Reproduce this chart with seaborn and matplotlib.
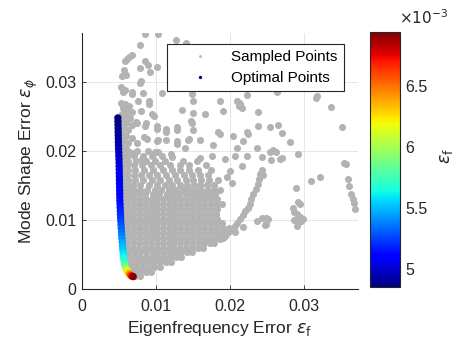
import numpy as np
import pandas as pd
import matplotlib
matplotlib.use("Agg")
import matplotlib.pyplot as plt
import seaborn as sns
from matplotlib.lines import Line2D
from matplotlib import colors as mcolors
from matplotlib import cm

# ---------------- data (values in units of 1e-3) ----------------
SCALE = 1e-3

# dense core of sampled points, row by row: y level and x values on that row
core_row_y = [1.9, 2.5, 3.2, 3.9, 4.6, 5.3, 6.0, 6.7, 7.4, 8.1, 8.8, 9.5, 10.2, 10.9,
              11.6, 12.3, 13.0, 13.7, 14.4, 15.1, 15.8, 16.5, 17.2, 17.9, 18.6, 19.3, 20.0]
core_row_x = [
    [7.1, 7.8],
    [6.4, 7.1, 7.9, 8.6, 9.3],
    [6.0, 6.7, 7.4, 8.2, 9.0, 9.7, 10.5],
    [5.8, 6.5, 7.3, 8.1, 8.9, 9.7, 10.5, 11.3, 12.0],
    [5.6, 6.3, 7.1, 7.9, 8.7, 9.5, 10.3, 11.1, 11.9, 12.7, 13.4],
    [5.5, 6.2, 7.0, 7.8, 8.6, 9.4, 10.2, 11.0, 11.8, 12.6, 13.4, 14.2, 14.8],
    [5.4, 6.1, 6.9, 7.7, 8.5, 9.3, 10.1, 10.9, 11.7, 12.5, 13.3, 14.1, 14.9, 15.7, 16.4],
    [5.4, 6.1, 6.9, 7.7, 8.5, 9.3, 10.1, 10.9, 11.7, 12.5, 13.3, 14.1, 14.9, 15.7, 16.5, 17.3, 17.9],
    [5.4, 6.2, 7.0, 7.8, 8.6, 9.4, 10.2, 11.0, 11.8, 12.6, 13.4, 14.2, 15.0, 15.8, 16.6, 17.4, 18.2, 18.8],
    [5.4, 6.1, 6.9, 7.7, 8.5, 9.3, 10.1, 10.9, 11.7, 12.5, 13.3, 14.1, 14.9, 15.7, 16.5, 17.3, 18.1, 18.9, 19.6],
    [5.4, 6.2, 7.0, 7.8, 8.6, 9.4, 10.2, 11.0, 11.8, 12.6, 13.4, 14.2, 15.0, 15.8, 16.6, 17.4, 18.2, 19.0, 19.8],
    [5.4, 6.1, 6.9, 7.7, 8.5, 9.3, 10.1, 10.9, 11.7, 12.5, 13.3, 14.1, 14.9, 15.7, 16.5, 17.3, 18.1, 18.9],
    [5.4, 6.2, 7.0, 7.8, 8.6, 9.4, 10.2, 11.0, 11.8, 12.6, 13.4, 14.2, 15.0, 15.8, 16.6, 17.4, 18.2],
    [5.4, 6.1, 6.9, 7.7, 8.5, 9.3, 10.1, 10.9, 11.7, 12.5, 13.3, 14.1, 14.9, 15.7, 16.5, 17.3, 18.1],
    [5.4, 6.2, 7.0, 7.8, 8.6, 9.4, 10.2, 11.0, 11.8, 12.6, 13.4, 14.2, 15.0, 15.8, 16.6, 17.4, 18.3],
    [5.4, 6.1, 6.9, 7.7, 8.5, 9.3, 10.1, 10.9, 11.7, 12.5, 13.3, 14.1, 14.9, 15.7, 16.5, 17.3, 18.1, 18.9],
    [5.4, 6.2, 7.0, 7.8, 8.6, 9.4, 10.2, 11.0, 11.8, 12.6, 13.4, 14.2, 15.0, 15.8, 16.6, 17.4, 18.3],
    [5.4, 6.1, 6.9, 7.7, 8.5, 9.6, 10.4, 11.5, 12.3, 13.1, 14.0, 14.8, 15.6, 16.4, 17.2, 18.0],
    [5.4, 6.2, 7.0, 7.8, 8.8, 9.9, 10.7, 11.8, 12.7, 13.6, 14.5, 15.3, 16.1, 17.0, 17.9, 18.6],
    [5.4, 6.1, 6.9, 7.8, 9.0, 10.1, 11.2, 12.2, 13.3, 14.2, 15.1, 16.0, 16.9, 17.8],
    [5.4, 6.2, 7.1, 8.2, 9.4, 10.6, 11.7, 12.9, 14.0, 15.0, 16.1, 17.2, 18.4],
    [5.4, 6.1, 7.0, 8.0, 9.1, 10.2, 11.4, 12.6, 13.8, 14.9, 16.0, 17.0],
    [5.4, 6.2, 7.2, 8.4, 9.6, 11.0, 12.2, 13.3, 14.5, 15.7, 17.5],
    [5.4, 6.1, 7.0, 8.1, 9.3, 10.6, 11.9, 13.2, 14.4, 16.8],
    [5.4, 6.2, 7.3, 8.6, 9.9, 11.2, 13.6, 15.5],
    [5.4, 6.1, 7.0, 8.2, 9.5, 10.8],
    [5.4, 6.2, 7.4, 8.9],
]

# strands of sampled points to the right of the core
strand_pts = [
    (17.3, 6.9), (19.0, 7.4), (20.7, 8.3), (21.8, 9.0), (23.6, 9.8), (18.6, 7.2),
    (19.3, 7.7), (20.0, 8.4), (20.7, 9.1), (21.0, 9.6), (21.4, 10.1), (21.7, 10.7),
    (22.0, 11.3), (22.4, 11.8), (22.7, 12.3), (22.9, 13.0), (23.1, 13.8), (23.5, 14.5),
    (23.8, 15.2), (23.9, 16.0), (24.0, 16.7), (24.3, 17.2), (21.6, 17.8), (24.3, 10.3),
    (25.1, 10.1), (24.9, 9.4), (24.7, 9.3), (20.0, 17.1), (19.6, 16.2), (20.3, 15.4),
]

# sparse sampled points, upper-left part
upper_pts = [
    (8.5, 36.9), (10.3, 36.9), (7.8, 35.3), (12.7, 36.1), (14.1, 35.7), (6.8, 33.9),
    (6.4, 33.6), (6.1, 33.3), (5.8, 33.0), (8.5, 33.0), (8.9, 32.5), (7.8, 32.1),
    (9.2, 31.5), (10.1, 32.2), (5.7, 31.8), (6.0, 31.0), (5.4, 30.9), (7.8, 29.9),
    (8.0, 30.2), (5.3, 29.3), (5.8, 28.8), (5.5, 28.6), (6.8, 28.2), (6.8, 28.6),
    (8.2, 28.4), (10.8, 28.4), (5.3, 27.0), (5.8, 26.8), (6.3, 26.5), (5.5, 26.2),
    (6.1, 25.8), (6.7, 25.6), (5.4, 25.3), (5.9, 25.0), (6.5, 24.8), (5.4, 24.4),
    (6.0, 24.1), (6.8, 23.8), (5.5, 23.4), (6.2, 23.0), (5.4, 22.5), (6.0, 22.2),
    (6.7, 21.9), (5.5, 21.5), (6.2, 21.1), (5.4, 20.6), (6.0, 20.3), (7.6, 27.2),
    (9.0, 27.2), (9.0, 26.8), (8.0, 25.8), (9.7, 25.0), (9.5, 25.3), (11.4, 22.8),
    (11.4, 23.2), (12.9, 23.5), (12.9, 23.0), (7.3, 24.2), (7.5, 24.0), (8.7, 24.0),
    (8.5, 23.6), (10.1, 23.6), (10.2, 23.2), (8.4, 22.1), (8.8, 21.8), (10.1, 21.4),
    (10.3, 21.6), (7.4, 21.2), (11.4, 21.6), (12.9, 21.4), (12.9, 21.0), (9.8, 19.8),
    (10.3, 19.8), (12.0, 19.5), (12.2, 19.2), (8.1, 18.8), (8.3, 18.6), (6.8, 19.7),
]

# sparse sampled points, middle / right part
right_pts = [
    (14.8, 28.2), (15.0, 27.2), (18.6, 27.2), (21.4, 26.8), (21.2, 26.5), (21.6, 26.3),
    (23.8, 25.7), (13.5, 26.0), (15.0, 25.5), (16.6, 25.3), (19.1, 25.8), (14.7, 24.3),
    (14.8, 24.0), (15.0, 23.0), (18.4, 22.8), (18.6, 22.5), (20.4, 22.2), (22.3, 22.8),
    (22.5, 22.5), (23.8, 23.6), (16.0, 21.6), (14.3, 21.6), (14.5, 21.8), (17.7, 20.9),
    (21.8, 21.4), (21.0, 20.4), (23.6, 20.4), (13.9, 20.4), (16.0, 19.0), (17.6, 19.3),
    (19.3, 18.9), (20.7, 19.3), (22.3, 19.3), (31.7, 28.0), (31.6, 27.7), (33.6, 26.4),
    (35.2, 23.5), (21.0, 27.2), (21.2, 27.0), (22.3, 28.1), (26.3, 28.5), (25.4, 23.5),
    (26.5, 23.8), (27.0, 22.6), (28.1, 21.3), (29.2, 19.6), (25.8, 20.1), (26.2, 19.9),
    (24.3, 19.2), (25.4, 19.8), (27.0, 19.0), (25.5, 18.7), (35.7, 18.1), (35.4, 18.3),
    (35.9, 15.9), (36.1, 14.9), (36.4, 13.7), (36.6, 13.0), (36.8, 12.4), (36.9, 11.6),
    (31.0, 15.7), (32.2, 16.3), (28.9, 14.7), (29.2, 12.6), (29.4, 12.3), (28.5, 11.8),
    (28.7, 11.2), (29.0, 10.8), (29.5, 10.5), (29.8, 10.2), (28.6, 10.0), (29.2, 9.6),
    (29.0, 9.1), (29.6, 9.8), (24.9, 10.3), (24.9, 9.4), (26.8, 18.9), (24.5, 16.5),
]

# Pareto-optimal points (eps_f, eps_phi)
optimal_pts = [
    (4.85, 24.8), (4.86, 24.3), (4.87, 23.8), (4.88, 23.3), (4.89, 22.8), (4.90, 22.3),
    (4.91, 21.8), (4.92, 21.3), (4.93, 20.8), (4.95, 20.3), (4.97, 19.8), (4.98, 19.3),
    (5.00, 18.8), (5.01, 18.3), (5.02, 17.8), (5.03, 17.3), (5.04, 16.8), (5.05, 16.3),
    (5.06, 15.8), (5.07, 15.3), (5.08, 14.8), (5.09, 14.3), (5.10, 13.8), (5.11, 13.3),
    (5.12, 12.8), (5.14, 12.3), (5.16, 11.8), (5.18, 11.3), (5.20, 10.8), (5.22, 10.3),
    (5.25, 9.8), (5.28, 9.3), (5.31, 8.8), (5.34, 8.3), (5.37, 7.8), (5.40, 7.3),
    (5.44, 6.8), (5.48, 6.3), (5.52, 5.8), (5.56, 5.3), (5.60, 4.9), (5.64, 4.5),
    (5.68, 4.1), (5.74, 3.7), (5.82, 3.35), (5.92, 3.05), (6.03, 2.8), (6.15, 2.55),
    (6.28, 2.35), (6.42, 2.17), (6.56, 2.02), (6.70, 1.91), (6.82, 1.84), (6.92, 1.80),
]

x_ticks = [0, 0.01, 0.02, 0.03]
x_ticklabels = ["0", "0.01", "0.02", "0.03"]
y_ticks = [0, 0.01, 0.02, 0.03]
y_ticklabels = ["0", "0.01", "0.02", "0.03"]
cb_ticks = [0.005, 0.0055, 0.006, 0.0065]
cb_ticklabels = ["5", "5.5", "6", "6.5"]
cb_range = (4.85e-3, 6.94e-3)

# ---------------- build tables ----------------
core_pts = [(x, y) for y, xs in zip(core_row_y, core_row_x) for x in xs]
sampled = np.array(core_pts + strand_pts + upper_pts + right_pts) * SCALE
sampled_df = pd.DataFrame({"x": sampled[:, 0], "y": sampled[:, 1]})
opt = np.array(optimal_pts) * SCALE
opt_df = pd.DataFrame({"x": opt[:, 0], "y": opt[:, 1]})

# ---------------- style ----------------
sns.set_style("white")
plt.rcParams["font.family"] = ["Liberation Sans", "DejaVu Sans"]
plt.rcParams["mathtext.fontset"] = "dejavusans"
TXT = "#262626"
JET = matplotlib.colormaps["jet"]

fig = plt.figure(figsize=(4.57, 3.47), dpi=100)
ax = fig.add_axes([0.1794, 0.1671, 0.604, 0.7378])

sns.scatterplot(data=sampled_df, x="x", y="y", color="#b3b3b3", s=26,
                linewidth=0, ax=ax, zorder=2, legend=False)
sns.scatterplot(data=opt_df, x="x", y="y", hue="x", palette=JET,
                hue_norm=mcolors.Normalize(*cb_range), s=28, linewidth=0,
                ax=ax, zorder=3, legend=False)

ax.set_xlim(0, 0.0373)
ax.set_ylim(0, 0.0371)
ax.set_xticks(x_ticks)
ax.set_xticklabels(x_ticklabels)
ax.set_yticks(y_ticks)
ax.set_yticklabels(y_ticklabels)
ax.grid(True, color="#e6e6e6", linewidth=0.7, zorder=0)
ax.set_axisbelow(True)
for side in ["top", "right"]:
    ax.spines[side].set_visible(False)
for side in ["left", "bottom"]:
    ax.spines[side].set_color(TXT)
    ax.spines[side].set_linewidth(0.8)
ax.tick_params(direction="in", length=3, width=0.6, colors=TXT,
               labelsize=11.5, bottom=True, left=True)
ax.tick_params(axis="x", pad=7)
ax.tick_params(axis="y", pad=4)
ax.set_xlabel(r"Eigenfrequency Error $\varepsilon_\mathrm{f}$", fontsize=12.5, color=TXT, labelpad=4)
ax.set_ylabel(r"Mode Shape Error $\varepsilon_\phi$", fontsize=12.5, color=TXT, labelpad=4)

handles = [
    Line2D([], [], linestyle="none", marker="o", markersize=2.0,
           markerfacecolor="#b3b3b3", markeredgecolor="none"),
    Line2D([], [], linestyle="none", marker="o", markersize=2.4,
           markerfacecolor=(0, 0, 0.5), markeredgecolor="none"),
]
leg = ax.legend(handles, ["Sampled Points", "Optimal Points"], loc="upper right",
                bbox_to_anchor=(0.949, 0.957), borderaxespad=0, fancybox=False,
                edgecolor=TXT, framealpha=1, fontsize=11, handlelength=3.5,
                handletextpad=0.3, labelspacing=0.45, borderpad=0.4)
leg.get_frame().set_linewidth(0.8)
for t in leg.get_texts():
    t.set_color("black")

cax = fig.add_axes([0.8096, 0.1729, 0.0656, 0.7349])
sm = cm.ScalarMappable(norm=mcolors.Normalize(*cb_range), cmap=JET)
cb = fig.colorbar(sm, cax=cax)
cb.set_ticks(cb_ticks)
cb.set_ticklabels(cb_ticklabels)
cb.outline.set_edgecolor(TXT)
cb.outline.set_linewidth(0.8)
cax.tick_params(direction="in", length=3, width=0.6, colors=TXT, labelsize=11.5, pad=4)
fig.text(0.873, 0.948, r"$\times 10^{-3}$", fontsize=11, color=TXT, ha="left", va="center")
fig.text(0.978, 0.55, r"$\varepsilon_\mathrm{f}$", fontsize=12.5, color=TXT,
         rotation=90, ha="center", va="center")

fig.savefig("out.png", dpi=100)
